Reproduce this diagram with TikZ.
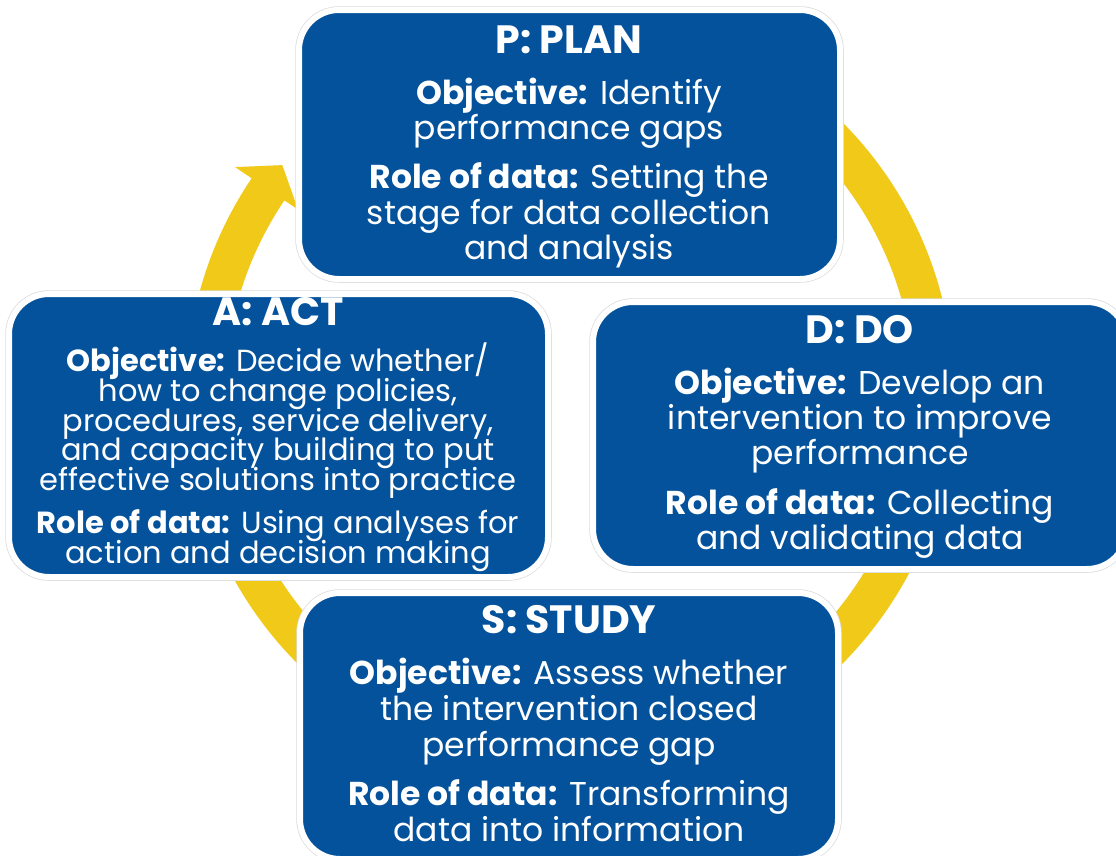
\documentclass[tikz,border=0pt]{standalone}
\usepackage{fontspec}
\setmainfont{Poppins}
\definecolor{pdsablue}{HTML}{03529B}
\definecolor{pdsayellow}{HTML}{F1C918}
\definecolor{pdsaedge}{HTML}{DCDCDC}
\newcommand{\titlefont}{\fontsize{39.5}{44}\selectfont\bfseries}
\newcommand{\bodyfont}{\fontsize{33}{38}\selectfont}
\newcommand{\actfont}{\fontsize{30.5}{34}\selectfont}
\tikzset{
  pdsabox/.style={rectangle, rounded corners=40pt, fill=pdsablue, draw=white,
    line width=6pt, preaction={draw=pdsaedge, line width=7.5pt}, inner sep=0pt},
  ttl/.style={anchor=base, text=white, inner sep=0pt, font=\titlefont},
  txt/.style={anchor=base, text=white, inner sep=0pt, font=\bodyfont},
  atxt/.style={anchor=base, text=white, inner sep=0pt, font=\actfont},
}
\begin{document}
\begin{tikzpicture}[x=1pt,y=-1pt]
\useasboundingbox (0,0) rectangle (1116,855);
\clip (0,0) rectangle (1116,855);
\fill[white] (0,0) rectangle (1116,855);
% cycle ring with arrow head
\begin{scope}[shift={(570,393)}, y=1pt]
\fill[pdsayellow] (100:384) arc[start angle=100, end angle=-214, radius=384]
  -- (-214:404) -- (-287.7,227.9) -- (-214:328) -- (-214:344.5)
  arc[start angle=-214, end angle=100, radius=344.5] -- cycle;
\end{scope}
% boxes
\node[pdsabox, minimum width=541pt, minimum height=269pt] (plan) at (569.5,144.5) {};
\node[pdsabox, minimum width=539pt, minimum height=283pt] (act) at (278.5,435.5) {};
\node[pdsabox, minimum width=534pt, minimum height=267pt] (do) at (860,435.5) {};
\node[pdsabox, minimum width=538pt, minimum height=266pt] (study) at (569,726) {};
% PLAN
\node[ttl] (p0) at (569,53) {P: PLAN};
\node[txt] (p1) at (569,104) {\textbf{Objective:} Identify};
\node[txt] (p2) at (569,139) {performance gaps};
\node[txt] (p3) at (569,188) {\textbf{Role of data:} Setting the};
\node[txt] (p4) at (569,224) {stage for data collection};
\node[txt] (p5) at (569,259) {and analysis};
% ACT
\node[ttl] (a0) at (278,325) {A: ACT};
\node[atxt] (a1) at (278,371) {\textbf{Objective:} Decide whether/};
\node[atxt] (a2) at (278,401) {how to change policies,};
\node[atxt] (a3) at (278,431) {procedures, service delivery,};
\node[atxt] (a4) at (278,460) {and capacity building to put};
\node[atxt] (a5) at (278,490) {effective solutions into practice};
\node[atxt] (a6) at (278,533) {\textbf{Role of data:} Using analyses for};
\node[atxt] (a7) at (278,563) {action and decision making};
% DO
\node[ttl] (d0) at (860,343) {D: DO};
\node[txt] (d1) at (860,394) {\textbf{Objective:} Develop an};
\node[txt] (d2) at (860,429) {intervention to improve};
\node[txt] (d3) at (860,464) {performance};
\node[txt] (d4) at (860,514) {\textbf{Role of data:} Collecting};
\node[txt] (d5) at (860,549) {and validating data};
% STUDY
\node[ttl] (s0) at (569,633) {S: STUDY};
\node[txt] (s1) at (569,684) {\textbf{Objective:} Assess whether};
\node[txt] (s2) at (569,720) {the intervention closed};
\node[txt] (s3) at (569,756) {performance gap};
\node[txt] (s4) at (569,805) {\textbf{Role of data:} Transforming};
\node[txt] (s5) at (569,841) {data into information};
\end{tikzpicture}
\end{document}
